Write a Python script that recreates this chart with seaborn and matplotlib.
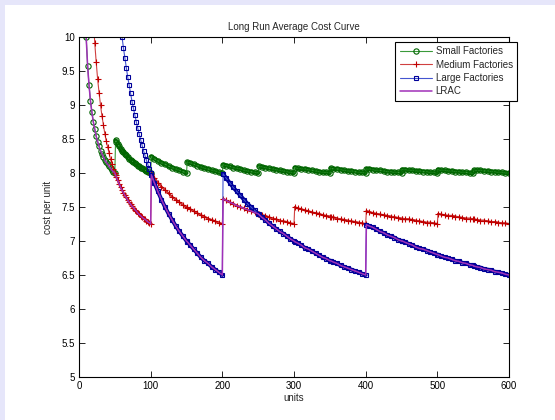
# -------------------------------
# LONG RUN AVERAGE COST CURVE
# -------------------------------

import numpy as np
import pandas as pd
import matplotlib
matplotlib.use("Agg")
import matplotlib.pyplot as plt
from matplotlib.patches import Rectangle
from matplotlib.ticker import FuncFormatter
import seaborn as sns

nan = np.nan

# -------------------------------
# DATA
# -------------------------------

units = [
    10, 12, 14, 16, 18, 20, 22, 24, 26, 28, 30, 32, 34, 36, 38, 40, 42, 44, 46, 48, 50,
    51, 52, 54, 56, 58, 60, 62, 64, 66, 68, 70, 72, 74, 76, 78, 80,
    82, 84, 86, 88, 90, 92, 94, 96, 98, 100,
    101, 105, 110, 115, 120, 125, 130, 135, 140, 145, 150,
    151, 155, 160, 165, 170, 175, 180, 185, 190, 195, 200,
    201, 205, 210, 215, 220, 225, 230, 235, 240, 245, 250,
    251, 255, 260, 265, 270, 275, 280, 285, 290, 295, 300,
    301, 305, 310, 315, 320, 325, 330, 335, 340, 345, 350,
    351, 355, 360, 365, 370, 375, 380, 385, 390, 395, 400,
    401, 405, 410, 415, 420, 425, 430, 435, 440, 445, 450,
    451, 455, 460, 465, 470, 475, 480, 485, 490, 495, 500,
    501, 505, 510, 515, 520, 525, 530, 535, 540, 545, 550,
    551, 555, 560, 565, 570, 575, 580, 585, 590, 595, 600,
]

small_cost = [
    10.00, 9.58, 9.29, 9.06, 8.89, 8.75, 8.64, 8.54, 8.46, 8.39, 8.33,
    8.28, 8.24, 8.19, 8.16, 8.13, 8.10, 8.07, 8.04, 8.02, 8.00,
    8.48, 8.46, 8.43, 8.39, 8.36, 8.33, 8.31, 8.28, 8.26, 8.24, 8.21, 8.19, 8.18,
    8.16, 8.14, 8.13, 8.11, 8.10, 8.08, 8.07, 8.06, 8.04, 8.03, 8.02, 8.01, 8.00,
    8.24, 8.21, 8.18, 8.15, 8.13, 8.10, 8.08, 8.06, 8.04, 8.02, 8.00,
    8.16, 8.15, 8.13, 8.11, 8.09, 8.07, 8.06, 8.04, 8.03, 8.01, 8.00,
    8.12, 8.11, 8.10, 8.08, 8.07, 8.06, 8.04, 8.03, 8.02, 8.01, 8.00,
    8.10, 8.09, 8.08, 8.07, 8.06, 8.05, 8.04, 8.03, 8.02, 8.01, 8.00,
    8.08, 8.07, 8.06, 8.06, 8.05, 8.04, 8.03, 8.02, 8.01, 8.01, 8.00,
    8.07, 8.06, 8.06, 8.05, 8.04, 8.03, 8.03, 8.02, 8.01, 8.01, 8.00,
    8.06, 8.06, 8.05, 8.04, 8.04, 8.03, 8.02, 8.02, 8.01, 8.01, 8.00,
    8.05, 8.05, 8.04, 8.04, 8.03, 8.03, 8.02, 8.02, 8.01, 8.01, 8.00,
    8.05, 8.04, 8.04, 8.03, 8.03, 8.02, 8.02, 8.01, 8.01, 8.00, 8.00,
    8.04, 8.04, 8.04, 8.03, 8.03, 8.02, 8.02, 8.01, 8.01, 8.00, 8.00,
]

medium_cost = [
    nan, nan, nan, nan, nan, 10.25, 9.91, 9.63, 9.38, 9.18, 9.00,
    8.84, 8.71, 8.58, 8.47, 8.38, 8.29, 8.20, 8.13, 8.06, 8.00,
    7.97, 7.94, 7.89, 7.84, 7.79, 7.75, 7.71, 7.67, 7.64, 7.60, 7.57, 7.54, 7.51,
    7.49, 7.46, 7.44, 7.41, 7.39, 7.37, 7.35, 7.33, 7.32, 7.30, 7.28, 7.27, 7.25,
    7.99, 7.93, 7.86, 7.80, 7.75, 7.70, 7.65, 7.61, 7.57, 7.53, 7.50,
    7.49, 7.47, 7.44, 7.41, 7.38, 7.36, 7.33, 7.31, 7.29, 7.27, 7.25,
    7.62, 7.60, 7.57, 7.55, 7.52, 7.50, 7.48, 7.46, 7.44, 7.42, 7.40,
    7.40, 7.38, 7.37, 7.35, 7.33, 7.32, 7.30, 7.29, 7.28, 7.26, 7.25,
    7.50, 7.48, 7.47, 7.45, 7.44, 7.42, 7.41, 7.40, 7.38, 7.37, 7.36,
    7.35, 7.35, 7.33, 7.32, 7.31, 7.30, 7.29, 7.28, 7.27, 7.26, 7.25,
    7.44, 7.43, 7.41, 7.40, 7.39, 7.38, 7.37, 7.36, 7.35, 7.34, 7.33,
    7.33, 7.32, 7.32, 7.31, 7.30, 7.29, 7.28, 7.27, 7.27, 7.26, 7.25,
    7.40, 7.39, 7.38, 7.37, 7.37, 7.36, 7.35, 7.34, 7.33, 7.33, 7.32,
    7.32, 7.31, 7.30, 7.30, 7.29, 7.28, 7.28, 7.27, 7.26, 7.26, 7.25,
]

large_cost = [
    nan, nan, nan, nan, nan, nan, nan, nan, nan, nan, nan,
    nan, nan, nan, nan, nan, nan, nan, nan, nan, nan,
    nan, nan, nan, 10.36, 10.17, 10.00, 9.84, 9.69, 9.55, 9.41, 9.29, 9.17, 9.05,
    8.95, 8.85, 8.75, 8.66, 8.57, 8.49, 8.41, 8.33, 8.26, 8.19, 8.13, 8.06, 8.00,
    7.97, 7.86, 7.73, 7.61, 7.50, 7.40, 7.31, 7.22, 7.14, 7.07, 7.00,
    6.99, 6.94, 6.88, 6.82, 6.76, 6.71, 6.67, 6.62, 6.58, 6.54, 6.50,
    7.99, 7.93, 7.86, 7.79, 7.73, 7.67, 7.61, 7.55, 7.50, 7.45, 7.40,
    7.39, 7.35, 7.31, 7.26, 7.22, 7.18, 7.14, 7.11, 7.07, 7.03, 7.00,
    6.99, 6.97, 6.94, 6.90, 6.88, 6.85, 6.82, 6.79, 6.76, 6.74, 6.71,
    6.71, 6.69, 6.67, 6.64, 6.62, 6.60, 6.58, 6.56, 6.54, 6.52, 6.50,
    7.24, 7.22, 7.20, 7.17, 7.14, 7.12, 7.09, 7.07, 7.05, 7.02, 7.00,
    7.00, 6.98, 6.96, 6.94, 6.91, 6.89, 6.88, 6.86, 6.84, 6.82, 6.80,
    6.80, 6.78, 6.76, 6.75, 6.73, 6.71, 6.70, 6.68, 6.67, 6.65, 6.64,
    6.63, 6.62, 6.61, 6.59, 6.58, 6.57, 6.55, 6.54, 6.53, 6.51, 6.50,
]

lrac_cost = [
    10.00, 9.58, 9.29, 9.06, 8.89, 8.75, 8.64, 8.54, 8.46, 8.39, 8.33,
    8.28, 8.24, 8.19, 8.16, 8.13, 8.10, 8.07, 8.04, 8.02, 8.00,
    7.97, 7.94, 7.89, 7.84, 7.79, 7.75, 7.71, 7.67, 7.64, 7.60, 7.57, 7.54, 7.51,
    7.49, 7.46, 7.44, 7.41, 7.39, 7.37, 7.35, 7.33, 7.32, 7.30, 7.28, 7.27, 7.25,
    7.97, 7.86, 7.73, 7.61, 7.50, 7.40, 7.31, 7.22, 7.14, 7.07, 7.00,
    6.99, 6.94, 6.88, 6.82, 6.76, 6.71, 6.67, 6.62, 6.58, 6.54, 6.50,
    7.62, 7.60, 7.57, 7.55, 7.52, 7.50, 7.48, 7.46, 7.44, 7.42, 7.40,
    7.39, 7.35, 7.31, 7.26, 7.22, 7.18, 7.14, 7.11, 7.07, 7.03, 7.00,
    6.99, 6.97, 6.94, 6.90, 6.88, 6.85, 6.82, 6.79, 6.76, 6.74, 6.71,
    6.71, 6.69, 6.67, 6.64, 6.62, 6.60, 6.58, 6.56, 6.54, 6.52, 6.50,
    7.24, 7.22, 7.20, 7.17, 7.14, 7.12, 7.09, 7.07, 7.05, 7.02, 7.00,
    7.00, 6.98, 6.96, 6.94, 6.91, 6.89, 6.88, 6.86, 6.84, 6.82, 6.80,
    6.80, 6.78, 6.76, 6.75, 6.73, 6.71, 6.70, 6.68, 6.67, 6.65, 6.64,
    6.63, 6.62, 6.61, 6.59, 6.58, 6.57, 6.55, 6.54, 6.53, 6.51, 6.50,
]

series_names = ["Small Factories", "Medium Factories", "Large Factories", "LRAC"]
x_ticks = [0, 100, 200, 300, 400, 500, 600]
y_ticks = [5, 5.5, 6, 6.5, 7, 7.5, 8, 8.5, 9, 9.5, 10]

# -------------------------------
# STYLE
# -------------------------------

sns.set_style("ticks")
plt.rcParams['font.family'] = ['Liberation Sans', 'DejaVu Sans']

fig = plt.figure(figsize=(5.55, 4.2), dpi=100)
fig.patch.set_facecolor('#e6e6fa')
# white page inside the lavender frame
fig.patches.append(Rectangle((5 / 555, 0), 1, 1 - 5 / 420, transform=fig.transFigure,
                             facecolor='white', edgecolor='none', zorder=-10))

ax = fig.add_axes([79 / 555, 1 - 377 / 420, 430 / 555, 340 / 420])
ax.set_zorder(1)


def segments(values, start):
    # split a curve where it jumps up (a new factory is added),
    # keep only the flat part where the markers pile up into a band
    df = pd.DataFrame({'units': units, 'cost': values})
    df['seg'] = (df['cost'].diff() > 0.05).cumsum()
    df = df[df['units'] > start]
    return df.dropna()


# -------------------------------
# PLOT
# -------------------------------

styles = [
    # name, values, band start, band colour, band width, line colour, marker, size, edge
    (series_names[0], small_cost, 50, '#006a00', 3.0, '#3a9a3a', 'o', 3.8, '#006400'),
    (series_names[1], medium_cost, 50, '#c00000', 1.4, '#d04040', '+', 4.2, '#c00000'),
    (series_names[2], large_cost, 100, '#000099', 2.8, '#4455d0', 's', 3.3, '#000099'),
]

for name, values, start, band_c, band_w, line_c, mk, ms, edge in styles:
    seg = segments(values, start)
    # dense marker band along each factory segment
    sns.lineplot(data=seg, x='units', y='cost', units='seg', estimator=None,
                 ax=ax, color=band_c, lw=band_w, legend=False)
    sns.lineplot(x=units, y=values, ax=ax, label=name, errorbar=None,
                 color=line_c, lw=0.8, marker=mk, ms=ms, mfc='none',
                 mec=edge, mew=0.8)

sns.lineplot(x=units, y=lrac_cost, ax=ax, label=series_names[3], errorbar=None,
             color='#a030b8', lw=1.1)

ax.set_xlim(0, 600)
ax.set_ylim(5, 10)
ax.set_xticks(x_ticks)
ax.set_yticks(y_ticks)
ax.yaxis.set_major_formatter(FuncFormatter(lambda v, p: '%g' % v))

ax.tick_params(direction='in', top=True, right=True, length=4, width=0.6,
               labelsize=7, pad=3, colors='black')
for s in ax.spines.values():
    s.set_color('black')
    s.set_linewidth(0.8)

ax.set_title("Long Run Average Cost Curve", fontsize=7, pad=5)
ax.set_xlabel("units", fontsize=7, labelpad=1)
ax.set_ylabel("cost per unit", fontsize=7, labelpad=6)

leg = ax.legend(loc='upper right', bbox_to_anchor=(1.019, 0.986), borderaxespad=0,
                fontsize=7, frameon=True, fancybox=False, edgecolor='black',
                handlelength=3.3, handletextpad=0.4, labelspacing=0.35,
                borderpad=0.45, framealpha=1)
leg.get_frame().set_linewidth(0.8)

plt.savefig("out.png", dpi=100, facecolor=fig.get_facecolor())
